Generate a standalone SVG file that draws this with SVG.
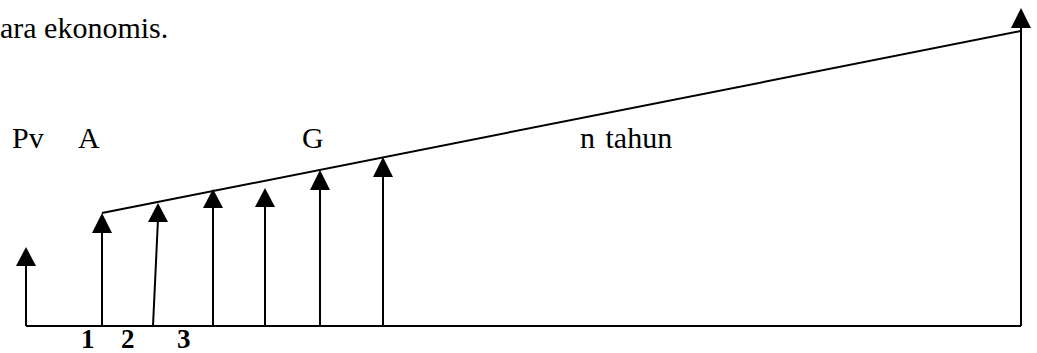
<svg xmlns="http://www.w3.org/2000/svg" width="1037" height="353" viewBox="0 0 1037 353">
<style>
.ln{stroke:#000;stroke-width:2;fill:none}
.hd{fill:#000}
.t{font-family:"Liberation Serif","Times New Roman",serif;font-size:30px;fill:#000}
.n{font-family:"Liberation Serif","Times New Roman",serif;font-size:27px;font-weight:bold;fill:#000}
</style>
<rect width="1037" height="353" fill="#fff"/>
<text class="t" x="0" y="38">ara ekonomis.</text>
<g id="labels">
<text class="t" x="12" y="148">Pv</text>
<text class="t" x="78" y="148">A</text>
<text class="t" x="302" y="148">G</text>
<text class="t" x="580" y="148" word-spacing="3">n tahun</text>
</g>
<g id="numbers">
<text class="n" x="81" y="348">1</text>
<text class="n" x="121" y="348">2</text>
<text class="n" x="177" y="348">3</text>
</g>
<g id="connectors">
<polyline class="ln" points="26,326 1021,326"/>
<line class="ln" x1="102" y1="213" x2="1021" y2="31"/>
</g>
<g id="arrow-pv"><line class="ln" x1="26" y1="326" x2="26" y2="262"/><polygon class="hd" points="26,247 16,266 36,266"/></g>
<g id="arrow-1"><line class="ln" x1="102" y1="326" x2="102" y2="230"/><polygon class="hd" points="102,213 92,233 112,233"/></g>
<g id="arrow-2"><line class="ln" x1="153" y1="326" x2="158" y2="219"/><polygon class="hd" points="158,203 148,222 168,222"/></g>
<g id="arrow-3"><line class="ln" x1="213" y1="326" x2="213" y2="205"/><polygon class="hd" points="213,189 203,208 223,208"/></g>
<g id="arrow-4"><line class="ln" x1="265" y1="326" x2="265" y2="204"/><polygon class="hd" points="265,188 255,207 275,207"/></g>
<g id="arrow-5"><line class="ln" x1="320" y1="326" x2="320" y2="187"/><polygon class="hd" points="320,170 310,190 330,190"/></g>
<g id="arrow-6"><line class="ln" x1="383" y1="326" x2="383" y2="174"/><polygon class="hd" points="383,157 373,177 393,177"/></g>
<g id="arrow-n"><line class="ln" x1="1021" y1="326" x2="1021" y2="25"/><polygon class="hd" points="1021,8 1011,28 1031,28"/></g>
</svg>
